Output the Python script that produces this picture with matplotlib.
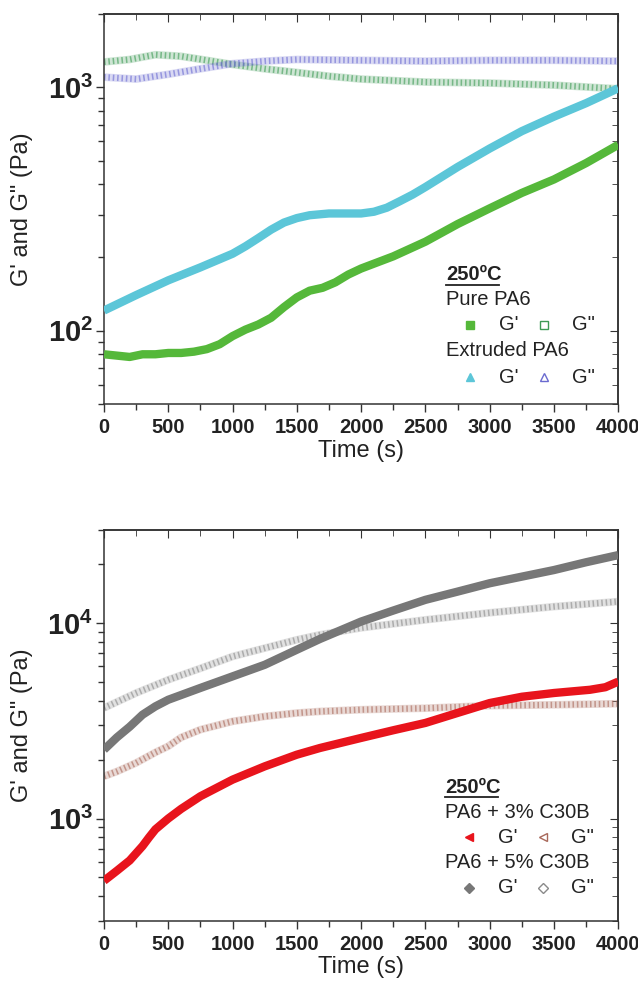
import math

import matplotlib
matplotlib.use("Agg")
import matplotlib.pyplot as plt
from matplotlib.ticker import LogLocator, FixedLocator, FuncFormatter, NullFormatter

plt.rcParams.update({
    "font.family": ["Liberation Sans", "DejaVu Sans"],
    "mathtext.fontset": "custom",
    "mathtext.rm": "Liberation Sans",
    "mathtext.bf": "Liberation Sans:bold",
    "axes.linewidth": 1.1,
    "axes.edgecolor": "#333333",
})

TEXT = "#222222"

# ---- top panel: pure vs extruded PA6 ----
t_pure_g1 = [0, 100, 200, 300, 400, 500, 600, 700, 800, 900, 1000, 1100, 1200, 1300, 1400,
             1500, 1600, 1700, 1800, 1900, 2000, 2250, 2500, 2750, 3000, 3250, 3500, 3750, 4000]
pure_g1 = [80, 79, 78, 80, 80, 81, 81, 82, 84, 88, 95, 101, 106, 113, 125,
           137, 146, 150, 158, 170, 180, 202, 232, 274, 318, 368, 418, 488, 580]

t_ext_g1 = [0, 250, 500, 750, 1000, 1100, 1200, 1300, 1400, 1500, 1600, 1750, 2000, 2100,
            2200, 2300, 2400, 2500, 2750, 3000, 3250, 3500, 3750, 4000]
ext_g1 = [121, 140, 161, 182, 207, 222, 240, 260, 278, 290, 298, 303, 303, 308,
          320, 340, 362, 389, 470, 560, 660, 757, 860, 990]

t_pure_g2 = [0, 200, 400, 600, 800, 1000, 1250, 1500, 1750, 2000, 2500, 3000, 3500, 4000]
pure_g2 = [1270, 1300, 1360, 1340, 1290, 1240, 1190, 1150, 1110, 1080, 1050, 1040, 1020, 985]

t_ext_g2 = [0, 250, 500, 750, 1000, 1250, 1500, 2000, 2500, 3000, 3500, 4000]
ext_g2 = [1100, 1080, 1130, 1190, 1250, 1280, 1300, 1290, 1280, 1290, 1290, 1280]

# ---- bottom panel: PA6 + C30B ----
t_c3_g1 = [0, 100, 200, 300, 350, 400, 500, 600, 750, 1000, 1250, 1500, 1680, 2000, 2250,
           2500, 2750, 3000, 3250, 3500, 3780, 3900, 4000]
c3_g1 = [480, 540, 610, 723, 800, 880, 1000, 1120, 1300, 1581, 1849, 2122, 2296, 2585, 2830,
         3085, 3470, 3900, 4200, 4390, 4560, 4700, 5020]

t_c3_g2 = [0, 100, 250, 400, 500, 600, 750, 1000, 1250, 1500, 1680, 2000, 2500, 3000, 3500, 4000]
c3_g2 = [1645, 1740, 1926, 2180, 2345, 2600, 2850, 3142, 3332, 3467, 3533, 3606, 3670, 3780,
         3820, 3870]

t_c5_g1 = [0, 100, 200, 300, 400, 500, 750, 1000, 1250, 1500, 1680, 2000, 2250, 2500, 2750,
           3000, 3250, 3500, 3750, 4000]
c5_g1 = [2250, 2600, 2950, 3400, 3750, 4055, 4660, 5340, 6120, 7310, 8300, 10190, 11600, 13160,
         14500, 16000, 17300, 18700, 20500, 22300]

t_c5_g2 = [0, 250, 500, 750, 1000, 1250, 1500, 1680, 2000, 2500, 3000, 3500, 4000]
c5_g2 = [3680, 4390, 5130, 5870, 6750, 7450, 8220, 8720, 9460, 10400, 11300, 12150, 12900]

GREEN = "#55b83a"
GREEN_OPEN = "#3d9a55"
CYAN = "#5cc6d8"
BLUE_OPEN = "#6a6ad0"
RED = "#e8141c"
BROWN_OPEN = "#a8685a"
GRAY = "#777777"
GRAY_OPEN = "#8a8a8a"


def filled(ax, t, v, color):
    ax.plot(t, v, color=color, lw=6, solid_capstyle="butt", solid_joinstyle="round", zorder=3)


def hollow(ax, t, v, color):
    ax.plot(t, v, color=color, lw=5.5, alpha=0.25, solid_capstyle="butt", zorder=2)
    ax.plot(t, v, color=color, lw=4.5, alpha=0.6, ls=(0, (0.25, 0.45)), zorder=2)


def log_label(v, pos):
    exp = int(round(math.log10(v)))
    return r"$\mathbf{10^{%d}}$" % exp


def style(ax, ylo, yhi):
    ax.set_xlim(0, 4000)
    ax.set_yscale("log")
    ax.set_ylim(ylo, yhi)
    ax.xaxis.set_major_locator(FixedLocator(range(0, 4001, 500)))
    ax.xaxis.set_minor_locator(FixedLocator(range(250, 4000, 500)))
    ax.yaxis.set_major_locator(LogLocator(base=10))
    ax.yaxis.set_minor_locator(LogLocator(base=10, subs=range(2, 10)))
    ax.yaxis.set_major_formatter(FuncFormatter(log_label))
    ax.yaxis.set_minor_formatter(NullFormatter())
    ax.tick_params(axis="both", which="both", direction="out", colors="#333333",
                   labelcolor=TEXT)
    ax.tick_params(axis="both", which="major", length=6, width=1.0)
    ax.tick_params(axis="both", which="minor", length=4, width=1.0)
    ax.tick_params(axis="y", which="major", labelsize=21, pad=2)
    ax.tick_params(axis="x", which="major", labelsize=14.5, pad=4)
    for lab in ax.get_xticklabels():
        lab.set_fontweight("bold")
    # mirrored ticks pointing inward on top and right
    top = ax.secondary_xaxis("top")
    top.xaxis.set_major_locator(FixedLocator(range(0, 4001, 500)))
    top.xaxis.set_minor_locator(FixedLocator(range(250, 4000, 500)))
    top.tick_params(which="both", direction="in", labeltop=False, colors="#333333")
    top.tick_params(which="major", length=6)
    top.tick_params(which="minor", length=4)
    right = ax.secondary_yaxis("right")
    right.yaxis.set_major_locator(LogLocator(base=10))
    right.yaxis.set_minor_locator(LogLocator(base=10, subs=range(2, 10)))
    right.tick_params(which="both", direction="in", labelright=False, colors="#333333")
    right.tick_params(which="major", length=6)
    right.tick_params(which="minor", length=4)
    ax.set_xlabel("Time (s)", fontsize=17, color=TEXT, labelpad=2)
    ax.set_ylabel("G' and G\" (Pa)", fontsize=17, color=TEXT)
    ax.yaxis.set_label_coords(-0.138, 0.5)


def legend_block(ax, x0, ys, titles, rows):
    # ys: title, group1, row1, group2, row2 (axes fraction)
    ax.text(x0, ys[0], "250ºC", transform=ax.transAxes, fontsize=14.5, fontweight="bold",
            va="center", ha="left", color=TEXT)
    ax.plot([x0, x0 + 0.103], [ys[0] - 0.025, ys[0] - 0.025], transform=ax.transAxes,
            color=TEXT, lw=1.3, clip_on=False)
    for k in range(2):
        ax.text(x0, ys[1 + 2 * k], titles[k], transform=ax.transAxes, fontsize=14.5,
                va="center", ha="left", color=TEXT)
        (m1, c1), (m2, c2) = rows[k]
        yr = ys[2 + 2 * k]
        ax.plot([x0 + 0.047], [yr], marker=m1, color=c1, ms=5.5, transform=ax.transAxes,
                clip_on=False, ls="none")
        ax.text(x0 + 0.123, yr, "G'", transform=ax.transAxes, fontsize=14.5, va="center",
                ha="center", color=TEXT)
        ax.plot([x0 + 0.19], [yr], marker=m2, mfc="none", mec=c2, mew=1.0, ms=5.5,
                transform=ax.transAxes, clip_on=False, ls="none")
        ax.text(x0 + 0.268, yr, "G\"", transform=ax.transAxes, fontsize=14.5, va="center",
                ha="center", color=TEXT)


fig = plt.figure(figsize=(6.38, 9.81), dpi=100)
ax1 = fig.add_axes([0.163, 0.5882, 0.806, 0.3976])
ax2 = fig.add_axes([0.163, 0.0615, 0.806, 0.3983])

hollow(ax1, t_pure_g2, pure_g2, GREEN_OPEN)
hollow(ax1, t_ext_g2, ext_g2, BLUE_OPEN)
filled(ax1, t_ext_g1, ext_g1, CYAN)
filled(ax1, t_pure_g1, pure_g1, GREEN)
style(ax1, 50, 2000)
legend_block(ax1, 0.665, [0.331, 0.267, 0.203, 0.138, 0.069],
             ["Pure PA6", "Extruded PA6"],
             [(("s", GREEN), ("s", GREEN_OPEN)), (("^", CYAN), ("^", BLUE_OPEN))])

hollow(ax2, t_c3_g2, c3_g2, BROWN_OPEN)
hollow(ax2, t_c5_g2, c5_g2, GRAY_OPEN)
filled(ax2, t_c5_g1, c5_g1, GRAY)
filled(ax2, t_c3_g1, c3_g1, RED)
style(ax2, 300, 30000)
legend_block(ax2, 0.663, [0.342, 0.278, 0.214, 0.150, 0.084],
             ["PA6 + 3% C30B", "PA6 + 5% C30B"],
             [(("<", RED), ("<", BROWN_OPEN)), (("D", GRAY), ("D", GRAY_OPEN))])

fig.savefig("out.png", dpi=100)
